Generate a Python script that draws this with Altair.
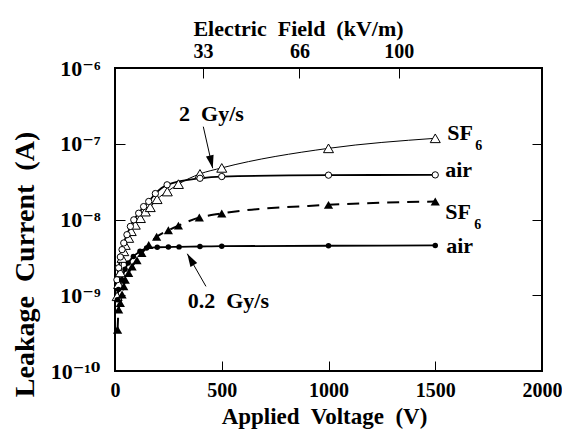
import altair as alt
import pandas as pd

# ---------------- data ----------------
V_2SF6 = [10, 17, 25, 33, 41, 48, 64, 76, 95, 119, 142, 165, 197, 245, 297, 398, 500, 1000, 1500]
I_2SF6 = [9.7e-10, 1.4e-9, 2.0e-9, 3.1e-9, 3.8e-9, 4.6e-9, 5.7e-9, 7.0e-9, 8.5e-9, 1.04e-8,
          1.27e-8, 1.45e-8, 1.85e-8, 2.34e-8, 2.93e-8, 4.0e-8, 4.8e-8, 8.7e-8, 1.18e-7]

V_2AIR = [9, 17, 25, 33, 41, 56, 72, 88, 111, 134, 158, 189, 244, 398, 500, 1000, 1500]
I_2AIR = [1.6e-9, 2.3e-9, 3.2e-9, 4.0e-9, 4.9e-9, 6.3e-9, 8.1e-9, 9.9e-9, 1.21e-8, 1.48e-8,
          1.73e-8, 2.2e-8, 2.87e-8, 3.5e-8, 3.69e-8, 3.85e-8, 3.88e-8]

V_02SF6 = [12, 17, 25, 33, 41, 48, 64, 80, 103, 126, 158, 195, 250, 297, 395, 500, 1000, 1500]
I_02SF6 = [3.5e-10, 6.5e-10, 7.9e-10, 1.02e-9, 1.31e-9, 1.6e-9, 1.97e-9, 2.4e-9, 2.9e-9, 3.6e-9,
           4.6e-9, 5.9e-9, 7.2e-9, 8.3e-9, 1.06e-8, 1.2e-8, 1.56e-8, 1.73e-8]

V_02AIR = [11, 16, 31, 47, 62, 86, 117, 148, 198, 250, 300, 398, 500, 1000, 1500]
I_02AIR = [8.7e-10, 1.19e-9, 1.6e-9, 2.2e-9, 2.66e-9, 3.25e-9, 3.8e-9, 4.2e-9, 4.3e-9, 4.33e-9,
           4.35e-9, 4.4e-9, 4.45e-9, 4.5e-9, 4.55e-9]

X_TICKS = [0, 500, 1000, 1500, 2000]
Y_TICKS = [1e-10, 1e-9, 1e-8, 1e-7, 1e-6]
E_TICKS = [33, 66, 100]
E_DOMAIN = [2.84, 149.1]

ANN_TEXT = ["2\u00a0 Gy/s", "0.2\u00a0 Gy/s"]
ANN_V = [452, 531]
ANN_I = [2.01e-7, 6.81e-10]

ARROW1_V = [413.6, 457.6]
ARROW1_I = [1.68e-7, 4.75e-8]
ARROW2_V = [426, 338.7]
ARROW2_I = [1.31e-9, 3.53e-9]

# ---------------- build tables ----------------
rows = []
for name, vs, cs in [("2SF6", V_2SF6, I_2SF6), ("2AIR", V_2AIR, I_2AIR),
                     ("02SF6", V_02SF6, I_02SF6), ("02AIR", V_02AIR, I_02AIR)]:
    for v, c in zip(vs, cs):
        rows.append({"series": name, "V": v, "I": c})
df = pd.DataFrame(rows)

FONT = "Times New Roman, Liberation Serif, DejaVu Serif, serif"
XDOM = [0, 2000]
YDOM = [1e-10, 1e-6]


def xenc(field="V", axis=None):
    return alt.X(f"{field}:Q", scale=alt.Scale(domain=XDOM, nice=False, zero=False), axis=axis)


def yenc(field="I", axis=None):
    return alt.Y(f"{field}:Q", scale=alt.Scale(type="log", domain=YDOM, nice=False), axis=axis)


def sub(series):
    return alt.Chart(df).transform_filter(alt.datum.series == series)


layers = []

# lines
layers.append(sub("2SF6").mark_line(color="black", strokeWidth=1, interpolate="monotone")
              .encode(x=xenc(), y=yenc()))
layers.append(sub("2AIR").mark_line(color="black", strokeWidth=1.8, interpolate="monotone")
              .encode(x=xenc(), y=yenc()))
layers.append(sub("02SF6").mark_line(color="black", strokeWidth=2, interpolate="monotone",
                                     strokeDash=[12, 8])
              .encode(x=xenc(), y=yenc()))
layers.append(sub("02AIR").mark_line(color="black", strokeWidth=1.8, interpolate="monotone")
              .encode(x=xenc(), y=yenc()))

# markers
layers.append(sub("2SF6").mark_point(shape="triangle-up", filled=True, fill="white", stroke="black",
                                     strokeWidth=1, size=100, opacity=1)
              .encode(x=xenc(), y=yenc()))
layers.append(sub("2AIR").mark_point(shape="circle", filled=True, fill="white", stroke="black",
                                     strokeWidth=1, size=40, opacity=1)
              .encode(x=xenc(), y=yenc()))
layers.append(sub("02SF6").mark_point(shape="triangle-up", filled=True, color="black", size=85, opacity=1)
              .encode(x=xenc(), y=yenc()))
layers.append(sub("02AIR").mark_point(shape="circle", filled=True, color="black", size=30, opacity=1)
              .encode(x=xenc(), y=yenc()))


def text_layer(txt, v, c, dx, dy, size, align="left"):
    d = pd.DataFrame({"V": [v], "I": [c], "t": [txt]})
    return alt.Chart(d).mark_text(font=FONT, fontWeight="bold", fontSize=size, color="black",
                                  align=align, baseline="alphabetic", dx=dx, dy=dy).encode(
        x=xenc(), y=yenc(), text="t:N")


# end labels
layers.append(text_layer("SF", V_2SF6[-1], I_2SF6[-1], 12, 2, 22))
layers.append(text_layer("6", V_2SF6[-1], I_2SF6[-1], 40, 12, 14))
layers.append(text_layer("air", V_2AIR[-1], I_2AIR[-1], 10, 2, 22))
layers.append(text_layer("SF", V_02SF6[-1], I_02SF6[-1], 10, 18, 22))
layers.append(text_layer("6", V_02SF6[-1], I_02SF6[-1], 39, 28, 14))
layers.append(text_layer("air", V_02AIR[-1], I_02AIR[-1], 11, 8, 22))

# dose-rate annotations
for t, v, c in zip(ANN_TEXT, ANN_V, ANN_I):
    layers.append(text_layer(t, v, c, 0, 0, 22, align="center"))

# arrows
HEAD = "M0,0L-0.6,-2L0.6,-2Z"
for av, ai, ang in [(ARROW1_V, ARROW1_I, 347), (ARROW2_V, ARROW2_I, 150)]:
    d = pd.DataFrame({"V": [av[0]], "I": [ai[0]], "V2": [av[1]], "I2": [ai[1]]})
    layers.append(alt.Chart(d).mark_rule(color="black", strokeWidth=1).encode(
        x=xenc(), y=yenc(), x2="V2:Q", y2="I2:Q"))
    layers.append(alt.Chart(d).mark_point(shape=HEAD, filled=True, color="black", size=169,
                                          angle=ang, opacity=1).encode(
        x=xenc("V2"), y=yenc("I2")))

# axes layers
ylab = ("datum.value < 3e-10 ? '10\u207b\u00b9\u2070' : datum.value < 3e-9 ? '10\u207b\u2079' : "
        "datum.value < 3e-8 ? '10\u207b\u2078' : datum.value < 3e-7 ? '10\u207b\u2077' : '10\u207b\u2076'")

common = dict(domain=False, grid=False, tickSize=10, tickColor="black", tickWidth=1,
              labelColor="black", labelFont=FONT, labelFontWeight="bold",
              titleColor="black", titleFont=FONT, titleFontWeight="bold")

bottom_axis = alt.Axis(orient="bottom", values=X_TICKS, offset=-10, labelFontSize=20,
                       labelPadding=25.5, labelBaseline="alphabetic", labelFlush=False,
                       title="Applied\u00a0 Voltage\u00a0 (V)", titleFontSize=23,
                       titleX=209, titleY=62.5, titleBaseline="alphabetic", titleAlign="center",
                       format="d", **common)
left_axis = alt.Axis(orient="left", values=Y_TICKS, offset=-10, labelFontSize=22,
                     labelPadding=15, labelExpr=ylab, labelBaseline="middle",
                     title="Leakage\u00a0 Current\u00a0 (A)", titleFontSize=28,
                     titleX=-92, titleY=196, titleAngle=270, titleBaseline="alphabetic",
                     titleAlign="center", **common)
right_axis = alt.Axis(orient="right", values=Y_TICKS, offset=-10, labels=False, title=None,
                      **common)
top_axis = alt.Axis(orient="top", values=E_TICKS, offset=-10, labelFontSize=20,
                    labelPadding=11, labelBaseline="alphabetic", labelFlush=False,
                    title="Electric\u00a0 Field\u00a0 (kV/m)", titleFontSize=22,
                    titleX=183, titleY=-43, titleBaseline="alphabetic", titleAlign="center",
                    format="d", **common)

axis_df = pd.DataFrame({"V": X_TICKS, "I": Y_TICKS})
layers.append(alt.Chart(axis_df).mark_point(opacity=0).encode(
    x=xenc(axis=bottom_axis), y=yenc(axis=left_axis)))
layers.append(alt.Chart(axis_df).mark_point(opacity=0).encode(
    x=xenc(), y=yenc(axis=right_axis)))
layers.append(alt.Chart(pd.DataFrame({"E": E_TICKS})).mark_point(opacity=0).encode(
    x=alt.X("E:Q", scale=alt.Scale(domain=E_DOMAIN, nice=False, zero=False), axis=top_axis),
    y=alt.value(0)))

chart = alt.layer(*layers).resolve_scale(x="independent").resolve_axis(
    x="independent", y="independent").properties(
    width=427, height=303,
    padding={"left": 107, "top": 60, "right": 20, "bottom": 62},
    autosize=alt.AutoSizeParams(type="none"),
    background="white",
).configure_view(stroke="black", strokeWidth=2)

chart.save("out.html", embed_options={"renderer": "svg", "actions": False})
